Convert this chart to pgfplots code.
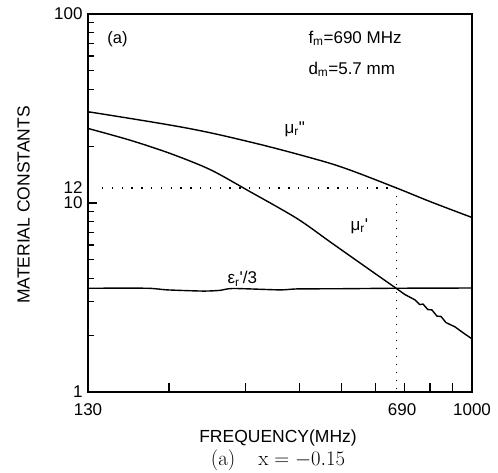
\documentclass[border=0pt]{standalone}
\usepackage{pgfplots}
\pgfplotsset{compat=1.18}
\usepackage{fontspec}
\setsansfont{Liberation Sans}[Ligatures=TeXOff]

\newcommand\tickfont{\sffamily\fontsize{17bp}{20bp}\selectfont}
\newcommand\labfont{\sffamily\fontsize{17.5bp}{21bp}\selectfont}
\newcommand\annfont{\sffamily\fontsize{17bp}{20bp}\selectfont}

\begin{document}
\begin{tikzpicture}
\path[use as bounding box] (-88bp,-81bp) rectangle (410bp,392bp);
\begin{axis}[
  at={(0,0)}, anchor=south west,
  scale only axis, width=384bp, height=378bp,
  xmode=log, ymode=log,
  xmin=130, xmax=1000, ymin=1, ymax=100,
  xtick={200,300,400,500,600,700,800,900},
  xticklabels={},
  xminorticks=false,
  extra x ticks={130,690,1000},
  extra x tick labels={130,690,1000},
  extra x tick style={major tick length=0pt},
  ytick={1,10,100},
  yticklabels={1,10,100},
  extra y ticks={11.8},
  extra y tick labels={12},
  extra y tick style={major tick length=0pt, yticklabel style={yshift=2bp}},
  tick pos=left,
  major tick length=9bp, minor tick length=6bp,
  tick style={line width=1.2bp, black},
  axis line style={line width=2.4bp},
  tick label style={font=\tickfont},
  xticklabel style={yshift=-8bp},
  yticklabel style={xshift=-2bp},
  clip=false,
]
% mu_r''
\addplot[black, line width=1.4bp, smooth, tension=0.6] coordinates {
(130,30.4) (218,25.0) (311,20.9) (430,17.2) (515,15.13) (670,12.0)
(800,10.18) (1000,8.38)
};
% mu_r'
\addplot[black, line width=1.4bp, smooth, tension=0.5] coordinates {
(130,24.8) (162.5,21.5) (201,18.3) (248.5,15.04) (304,11.65) (394,8.30)
(470,6.24) (560,4.70) (668,3.54)
};
\addplot[black, line width=1.4bp] coordinates {
(668,3.54) (700,3.28) (739,3.07) (758,2.90)
(771,2.92) (791,2.73) (808,2.72) (830,2.52) (848,2.51) (871,2.33)
(914,2.21) (953,2.06) (1000,1.91)
};
% eps_r'/3
\addplot[black, line width=1.4bp, smooth, tension=0.4] coordinates {
(130,3.54) (178,3.54) (198,3.47) (240,3.42) (262,3.45) (281,3.53)
(360,3.47) (394,3.51) (500,3.52) (668,3.54) (1000,3.55)
};
% guide lines
\addplot[black, line width=1.3bp, dash pattern=on 1.4bp off 8.4bp] coordinates {
(140,12.0) (670,12.0)
};
\addplot[black, line width=1.3bp, dash pattern=on 1.4bp off 6.6bp] coordinates {
(670,12.0) (670,1)
};
\end{axis}
\node[rotate=90, font=\labfont] at (-64.5bp,187bp) {MATERIAL CONSTANTS};
\node[font=\labfont] at (190bp,-46bp) {FREQUENCY(MHz)};
\node[font=\rmfamily\fontsize{21bp}{25bp}\selectfont] at (190bp,-68bp)
  {(a)\hspace{1.1em}$\mathrm{x}=-0.15$};
\node[font=\sffamily\fontsize{16.5bp}{20bp}\selectfont] at (29.5bp,352.5bp) {(a)};
\node[font=\annfont, anchor=base west] at (217bp,348.7bp) {f\textsubscript{m}=690 MHz};
\node[font=\annfont, anchor=base west] at (217bp,317.7bp) {d\textsubscript{m}=5.7 mm};
\node[font=\annfont, anchor=west] at (193bp,263bp) {μ\textsubscript{r}"};
\node[font=\annfont, anchor=west] at (259bp,166bp) {μ\textsubscript{r}'};
\node[font=\annfont, anchor=west] at (136bp,113bp) {ε\textsubscript{r}'/3};
\end{tikzpicture}
\end{document}
